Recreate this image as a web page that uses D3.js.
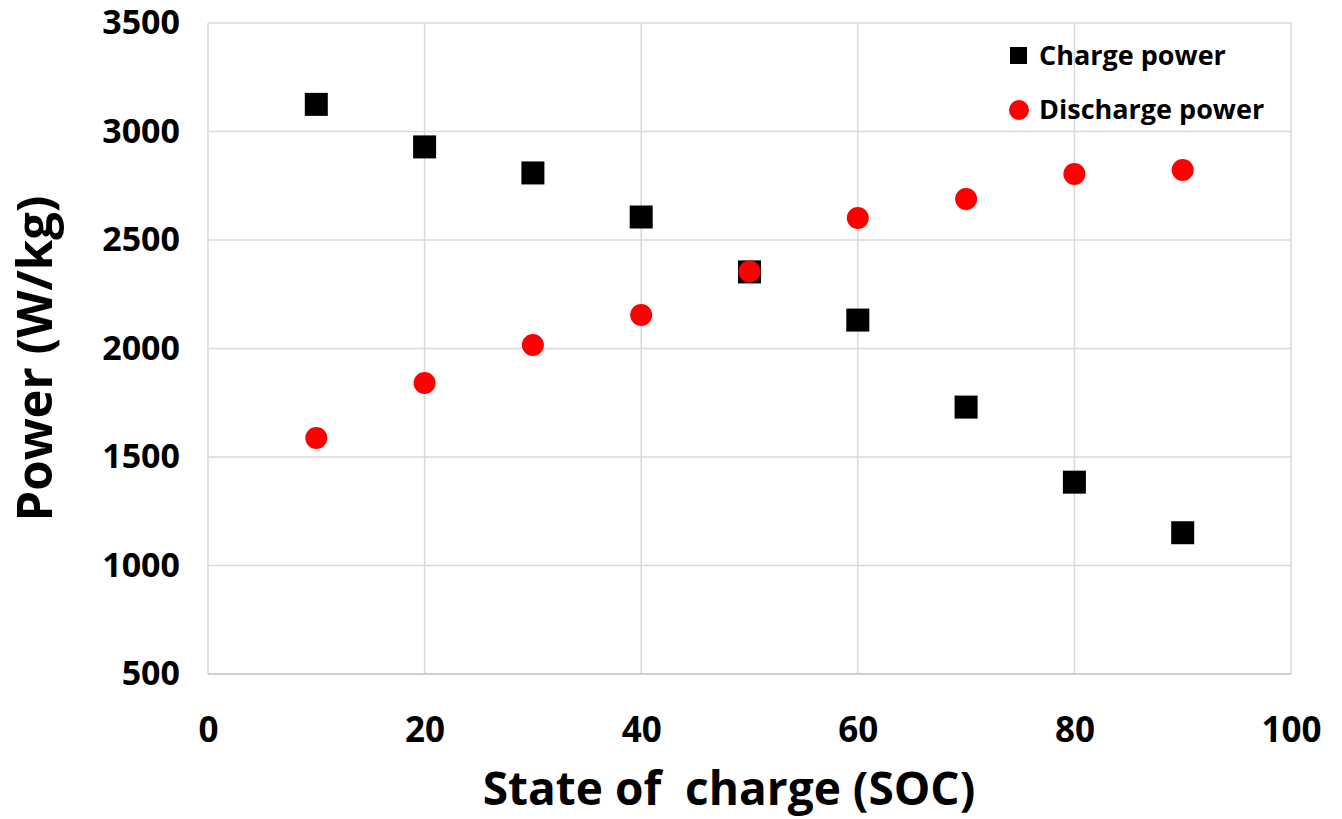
<!DOCTYPE html>
<html><head><meta charset="utf-8">
<script src="https://cdn.jsdelivr.net/npm/d3@7"></script>
<style>body{margin:0;background:#fff}svg{display:block}text{font-family:"Open Sans","Noto Sans",sans-serif;font-weight:700}</style>
</head><body><svg id="c" width="1342" height="819"></svg>
<script>
const soc = [10,20,30,40,50,60,70,80,90];
const chargePower = [3125,2929,2809,2606,2353,2131,1730,1384,1151];
const dischargePower = [1588,1841,2016,2154,2355,2601,2689,2804,2823];
const xTicks = [0,20,40,60,80,100];
const yTicks = [500,1000,1500,2000,2500,3000,3500];
const seriesNames = ["Charge power","Discharge power"];

const svg = d3.select("#c");
const L=208,R=1291,T=23,B=674;
const x = d3.scaleLinear().domain([0,100]).range([L,R]);
const y = d3.scaleLinear().domain([500,3500]).range([B,T]);
const grid="#d9d9d9";

svg.append("g").selectAll("line").data(xTicks).join("line")
 .attr("x1",d=>x(d)).attr("x2",d=>x(d)).attr("y1",T).attr("y2",B)
 .attr("stroke",grid).attr("stroke-width",1.5);
svg.append("g").selectAll("line").data(yTicks).join("line")
 .attr("x1",L).attr("x2",R).attr("y1",d=>y(d)).attr("y2",d=>y(d))
 .attr("stroke",grid).attr("stroke-width",1.5);
svg.append("line").attr("x1",L).attr("x2",R).attr("y1",B).attr("y2",B).attr("stroke","#c8c8c8").attr("stroke-width",1.5);

const fmt = d3.format("d");
const xa = svg.append("g").attr("transform",`translate(0,${B})`).call(d3.axisBottom(x).tickValues(xTicks).tickFormat(fmt).tickSize(0).tickPadding(43));
xa.select(".domain").remove();
xa.selectAll("text").attr("font-size",35).attr("fill","#000").attr("font-family",null);
const ya = svg.append("g").attr("transform",`translate(${L},0)`).call(d3.axisLeft(y).tickValues(yTicks).tickFormat(fmt).tickSize(0).tickPadding(28));
ya.select(".domain").remove();
ya.selectAll("text").attr("font-size",34).attr("fill","#000").attr("font-family",null);

svg.append("text").attr("x",729).attr("y",805).attr("text-anchor","middle")
 .attr("font-size",46).style("white-space","pre").text("State of  charge (SOC)");
svg.append("text").attr("transform",`translate(52,${(T+B)/2 + 10}) rotate(-90)`).attr("text-anchor","middle")
 .attr("font-size",49).text("Power (W/kg)");

const s=23;
svg.append("g").selectAll("rect").data(soc).join("rect")
 .attr("x",(d)=>x(d)-s/2).attr("y",(d,i)=>y(chargePower[i])-s/2).attr("width",s).attr("height",s).attr("fill","#000");
svg.append("g").selectAll("circle").data(soc).join("circle")
 .attr("cx",d=>x(d)).attr("cy",(d,i)=>y(dischargePower[i])).attr("r",11).attr("fill","#ff0000");

const lg = svg.append("g");
lg.append("rect").attr("x",1010).attr("y",47).attr("width",17).attr("height",17).attr("fill","#000");
lg.append("text").attr("x",1039).attr("y",65).attr("font-size",27).text(seriesNames[0]);
lg.append("circle").attr("cx",1019).attr("cy",110).attr("r",10).attr("fill","#ff0000");
lg.append("text").attr("x",1039).attr("y",119).attr("font-size",27).text(seriesNames[1]);
</script></body></html>
